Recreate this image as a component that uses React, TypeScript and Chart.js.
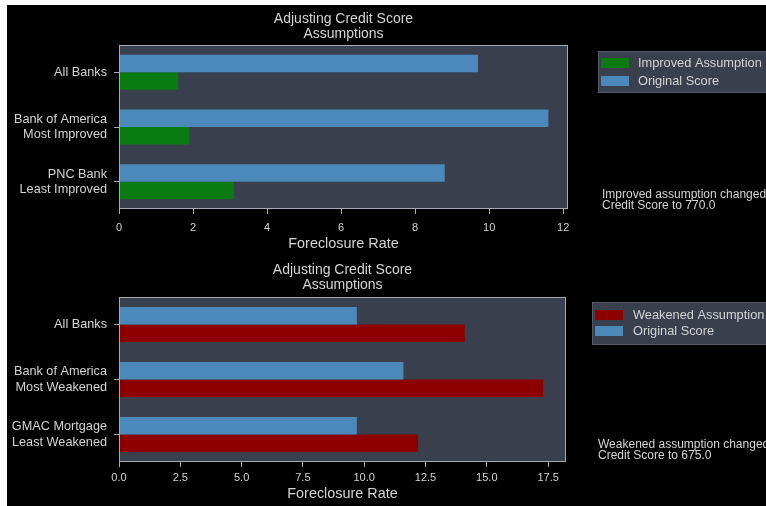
import React, { useEffect, useRef } from "react";
import { Chart, registerables } from "chart.js";

Chart.register(...registerables);

// ---------- data ----------
const topCategories: (string | string[])[] = [
  "All Banks",
  ["Bank of America", "Most Improved"],
  ["PNC Bank", "Least Improved"],
];
const topOriginal = [9.7, 11.6, 8.8];
const topImproved = [1.6, 1.9, 3.1];
const topTicks = [0, 2, 4, 6, 8, 10, 12];
const topMax = 12.13;

const bottomCategories: (string | string[])[] = [
  "All Banks",
  ["Bank of America", "Most Weakened"],
  ["GMAC Mortgage", "Least Weakened"],
];
const bottomOriginal = [9.7, 11.6, 9.7];
const bottomWeakened = [14.1, 17.3, 12.2];
const bottomTicks = [0, 2.5, 5, 7.5, 10, 12.5, 15, 17.5];
const bottomMax = 18.23;

const titleLines = ["Adjusting Credit Score", "Assumptions"];
const axisTitle = "Foreclosure Rate";
const originalLabel = "Original Score";
const improvedLabel = "Improved Assumption";
const weakenedLabel = "Weakened Assumption";
const topNote = ["Improved assumption changed", "Credit Score to 770.0"];
const bottomNote = ["Weakened assumption changed", "Credit Score to 675.0"];

// ---------- styles ----------
const FONT = "'Liberation Sans', Arial, sans-serif";
const PLOT_BG = "#3a3f4d";
const BORDER = "#a9a9b6";
const TEXT = "#d4d4d4";
const BLUE = "#4a89b9";
const GREEN = "#0a7a12";
const RED = "#8e0000";

type PanelCfg = {
  categories: (string | string[])[];
  original: number[];
  changed: number[];
  changedLabel: string;
  changedColor: string;
  ticks: number[];
  max: number;
  decimals: number;
  note: string[];
  height: number;
  padding: { left: number; top: number; right: number; bottom: number };
  xHeight: number;
  tickPad: number;
  titlePadBottom: number;
  titleY: number[];
  legend: { x: number; y: number; h: number; rows: number[]; swX: number; textX: number };
  noteX: number;
  noteY: number[];
};

function buildConfig(p: PanelCfg): any {
  const decor = {
    id: "decor",
    beforeDraw(chart: any) {
      const { ctx, chartArea: a } = chart;
      ctx.save();
      ctx.fillStyle = PLOT_BG;
      ctx.fillRect(a.left, a.top, a.right - a.left, a.bottom - a.top);
      ctx.restore();
    },
    afterDatasetsDraw(chart: any) {
      const { ctx, chartArea: a } = chart;
      ctx.save();
      ctx.strokeStyle = BORDER;
      ctx.lineWidth = 1;
      ctx.strokeRect(a.left + 0.5, a.top + 0.5, a.right - a.left - 1, a.bottom - a.top - 1);
      ctx.restore();
    },
    afterDraw(chart: any) {
      const { ctx, chartArea: a } = chart;
      ctx.save();
      // title
      ctx.fillStyle = TEXT;
      ctx.font = `14px ${FONT}`;
      ctx.textAlign = "center";
      ctx.textBaseline = "middle";
      const cx = (a.left + a.right) / 2;
      titleLines.forEach((t, i) => ctx.fillText(t, cx, p.titleY[i]));
      // legend
      const L = p.legend;
      ctx.fillStyle = PLOT_BG;
      ctx.strokeStyle = "#555a68";
      ctx.lineWidth = 1;
      ctx.fillRect(L.x, L.y, 300, L.h);
      ctx.strokeRect(L.x + 0.5, L.y + 0.5, 300, L.h - 1);
      const ds = chart.data.datasets;
      const order = [ds[1], ds[0]];
      ctx.textAlign = "left";
      ctx.font = `12.8px ${FONT}`;
      order.forEach((d: any, i: number) => {
        const y = L.rows[i];
        ctx.fillStyle = d.backgroundColor;
        ctx.fillRect(L.swX, y - 5, 28, 10);
        ctx.fillStyle = TEXT;
        ctx.fillText(d.label, L.textX, y);
      });
      // note
      ctx.font = `12px ${FONT}`;
      ctx.fillStyle = TEXT;
      p.note.forEach((t, i) => ctx.fillText(t, p.noteX, p.noteY[i]));
      ctx.restore();
    },
  };

  return {
    type: "bar",
    data: {
      labels: p.categories,
      datasets: [
        {
          label: originalLabel,
          data: p.original,
          backgroundColor: BLUE,
          borderWidth: 0,
          categoryPercentage: 0.64,
          barPercentage: 1.0,
        },
        {
          label: p.changedLabel,
          data: p.changed,
          backgroundColor: p.changedColor,
          borderWidth: 0,
          categoryPercentage: 0.64,
          barPercentage: 1.0,
        },
      ],
    },
    options: {
      indexAxis: "y",
      responsive: false,
      animation: false,
      devicePixelRatio: 1,
      layout: { padding: p.padding },
      plugins: { legend: { display: false }, title: { display: false }, tooltip: { enabled: false } },
      scales: {
        x: {
          type: "linear",
          min: 0,
          max: p.max,
          afterBuildTicks: (scale: any) => {
            scale.ticks = p.ticks.map((v) => ({ value: v }));
          },
          afterFit: (scale: any) => {
            scale.height = p.xHeight;
          },
          ticks: {
            color: TEXT,
            font: { family: FONT, size: 11 },
            padding: p.tickPad,
            maxRotation: 0,
            autoSkip: false,
            callback: (v: any) => Number(v).toFixed(p.decimals),
          },
          grid: { display: true, drawOnChartArea: false, drawTicks: true, tickLength: 5, color: BORDER },
          border: { display: false },
          title: {
            display: true,
            text: axisTitle,
            color: TEXT,
            font: { family: FONT, size: 14.4 },
            padding: { top: 0, bottom: p.titlePadBottom },
          },
        },
        y: {
          type: "category",
          offset: true,
          afterFit: (scale: any) => {
            scale.width = 110;
          },
          ticks: {
            color: TEXT,
            font: { family: FONT, size: 12.7, lineHeight: 1.2 },
            padding: 7,
            autoSkip: false,
          },
          grid: { display: true, offset: false, drawOnChartArea: false, drawTicks: true, tickLength: 5, color: BORDER },
          border: { display: false },
        },
      },
    },
    plugins: [decor],
  };
}

const topCfg: PanelCfg = {
  categories: topCategories,
  original: topOriginal,
  changed: topImproved,
  changedLabel: improvedLabel,
  changedColor: GREEN,
  ticks: topTicks,
  max: topMax,
  decimals: 0,
  note: topNote,
  height: 255,
  padding: { left: 9, top: 45, right: 198, bottom: 0 },
  xHeight: 46,
  tickPad: 7,
  titlePadBottom: 2,
  titleY: [19, 34],
  legend: { x: 598, y: 51, h: 42, rows: [63, 81], swX: 601, textX: 638 },
  noteX: 602,
  noteY: [195, 206],
};

const bottomCfg: PanelCfg = {
  categories: bottomCategories,
  original: bottomOriginal,
  changed: bottomWeakened,
  changedLabel: weakenedLabel,
  changedColor: RED,
  ticks: bottomTicks,
  max: bottomMax,
  decimals: 1,
  note: bottomNote,
  height: 251,
  padding: { left: 9, top: 42, right: 200, bottom: 0 },
  xHeight: 44,
  tickPad: 4,
  titlePadBottom: 3,
  titleY: [15, 30],
  legend: { x: 592, y: 47, h: 43, rows: [60, 76], swX: 595, textX: 633 },
  noteX: 598,
  noteY: [190, 201],
};

function Panel({ cfg, top }: { cfg: PanelCfg; top: number }) {
  const ref = useRef<HTMLCanvasElement>(null);
  useEffect(() => {
    const chart = new Chart(ref.current as HTMLCanvasElement, buildConfig(cfg));
    return () => chart.destroy();
  }, [cfg]);
  return (
    <canvas
      ref={ref}
      width={766}
      height={cfg.height}
      style={{ position: "absolute", left: 0, top, width: 766, height: cfg.height, display: "block" }}
    />
  );
}

export default function App() {
  return (
    <div style={{ position: "fixed", left: 0, top: 0, width: 766, height: 506, background: "#ffffff", overflow: "hidden" }}>
      <div style={{ position: "absolute", left: 7, top: 5, width: 759, height: 501, background: "#000000" }} />
      <Panel cfg={topCfg} top={0} />
      <Panel cfg={bottomCfg} top={255} />
    </div>
  );
}
